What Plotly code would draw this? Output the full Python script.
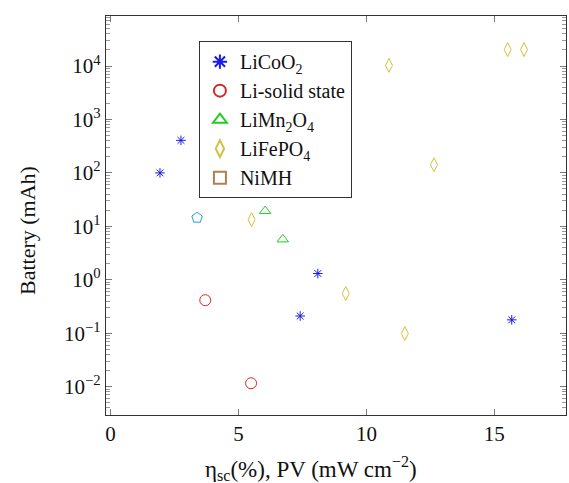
import plotly.graph_objects as go

# ---- data ----
licoo2_x = [1.93, 2.75, 8.10, 7.41, 15.68]
licoo2_y = [100, 406, 1.31, 0.21, 0.178]

lisolid_x = [3.70, 5.49]
lisolid_y = [0.415, 0.0116]

limn2o4_x = [6.04, 6.73]
limn2o4_y = [19.3, 5.7]

lifepo4_x = [5.51, 10.88, 15.52, 16.16, 12.64, 9.19, 11.50]
lifepo4_y = [13.3, 10300, 20300, 20300, 142, 0.554, 0.0987]

nimh_x = [None]
nimh_y = [None]

other_x = [3.38]
other_y = [14.5]

y_tickvals = [1e-2, 1e-1, 1e0, 1e1, 1e2, 1e3, 1e4]
y_ticktext = ["10<sup>−2</sup>", "10<sup>−1</sup>", "10<sup>0</sup>", "10<sup>1</sup>",
              "10<sup>2</sup>", "10<sup>3</sup>", "10<sup>4</sup>"]
x_tickvals = [0, 5, 10, 15]

x_title = "η<sub>sc</sub>(%), PV (mW cm<sup>−2</sup>)"
y_title = "Battery (mAh)"

FONT = "Liberation Serif"

fig = go.Figure()

def add(x, y, name, symbol, color, size, show=True):
    fig.add_trace(go.Scatter(
        x=x, y=y, mode="markers", name=name, showlegend=show,
        marker=dict(symbol=symbol, size=size, color=color,
                    line=dict(color=color, width=1.0)),
    ))

add(licoo2_x, licoo2_y, "LiCoO<sub>2</sub>", "asterisk-open", "#1a1ae6", 8)
add(lisolid_x, lisolid_y, "Li-solid state", "circle-open", "#d42a2a", 11)
add(limn2o4_x, limn2o4_y, "LiMn<sub>2</sub>O<sub>4</sub>", "triangle-up-open", "#22cc22", 10)
add(lifepo4_x, lifepo4_y, "LiFePO<sub>4</sub>", "diamond-tall-open", "#d6c03c", 10)
add(nimh_x, nimh_y, "NiMH", "square-open", "#b08050", 10)
add(other_x, other_y, "other", "pentagon-open", "#1fa3d6", 11, show=False)

axis_common = dict(
    showline=True, linecolor="#333333", linewidth=1.2, mirror="ticks",
    ticks="inside", tickcolor="#777777", ticklen=6, tickwidth=1,
    showgrid=False, zeroline=False, automargin=False,
    tickfont=dict(family=FONT, size=21, color="#111111"),
)

fig.update_xaxes(range=[-0.18, 17.8], tickvals=x_tickvals, **axis_common)
fig.update_yaxes(
    type="log", range=[-2.53, 4.936], tickvals=y_tickvals, ticktext=y_ticktext,
    minor=dict(ticks="inside", ticklen=3.5, tickcolor="#999999",
               tickvals=[m * 10**e for e in range(-3, 5) for m in range(2, 10)]),
    **axis_common,
)

fig.add_annotation(text=x_title, xref="paper", yref="paper", x=0.446, y=-0.133,
                   xanchor="center", yanchor="middle", showarrow=False,
                   font=dict(family=FONT, size=23, color="#111111"))
fig.add_annotation(text=y_title, xref="paper", yref="paper", x=-0.171, y=0.462,
                   xanchor="center", yanchor="middle", showarrow=False, textangle=-90,
                   font=dict(family=FONT, size=22, color="#111111"))

fig.update_layout(
    width=569, height=483,
    margin=dict(l=106, r=3, t=16, b=68),
    paper_bgcolor="white", plot_bgcolor="white",
    legend=dict(
        x=0.202, y=0.937, xanchor="left", yanchor="top",
        bgcolor="white", bordercolor="#333333", borderwidth=1,
        font=dict(family=FONT, size=20, color="#111111"),
        tracegroupgap=0, itemsizing="constant", itemwidth=30,
    ),
)

fig.write_html(
    "out.html",
    config={"displayModeBar": False},
    post_script="document.body.style.margin='0';document.body.style.overflow='hidden';",
)
